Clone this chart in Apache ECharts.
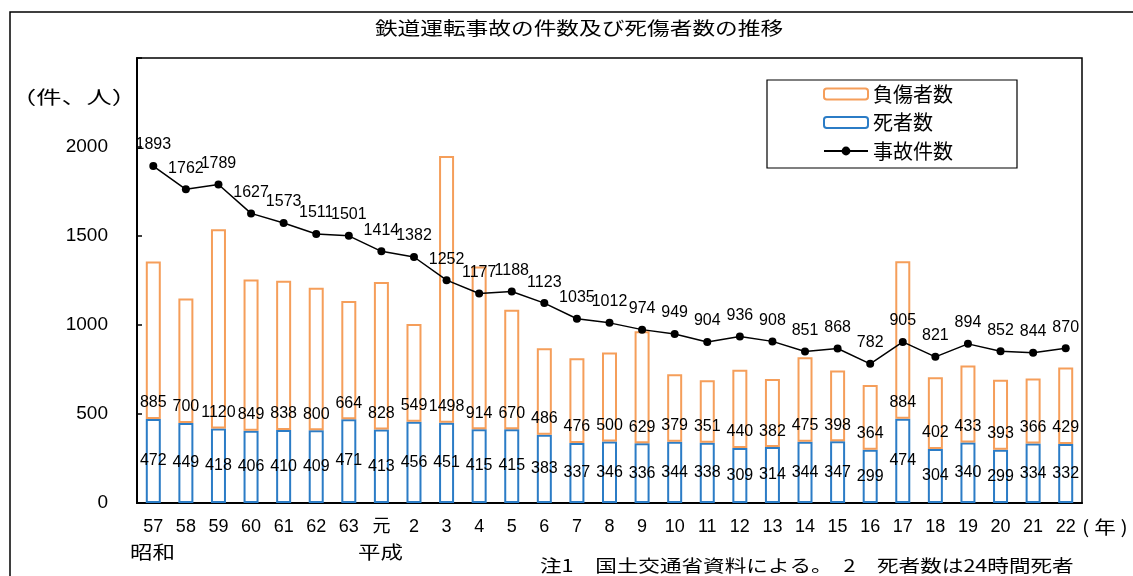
<!DOCTYPE html>
<html>
<head>
<meta charset="utf-8">
<script src="https://cdn.jsdelivr.net/npm/echarts@6/dist/echarts.min.js"></script>
<style>
  html, body { margin: 0; padding: 0; background: #fff; }
  #chart { width: 1133px; height: 576px; }
</style>
</head>
<body>
<div id="chart"></div>
<script>
// 年（昭和57年〜平成22年）
const years = ['57','58','59','60','61','62','63','元','2','3','4','5','6','7','8','9','10','11','12','13','14','15','16','17','18','19','20','21','22'];
// 死者数
const deaths = [472,449,418,406,410,409,471,413,456,451,415,415,383,337,346,336,344,338,309,314,344,347,299,474,304,340,299,334,332];
// 負傷者数
const injuries = [885,700,1120,849,838,800,664,828,549,1498,914,670,486,476,500,629,379,351,440,382,475,398,364,884,402,433,393,366,429];
// 事故件数
const accidents = [1893,1762,1789,1627,1573,1511,1501,1414,1382,1252,1177,1188,1123,1035,1012,974,949,904,936,908,851,868,782,905,821,894,852,844,870];

const FONT = "'Liberation Sans', Arial, 'Noto Sans CJK JP', sans-serif";
const JP = "'Noto Sans CJK JP', sans-serif";
const ORANGE = '#F59E5A';
const BLUE = '#2B7CC6';

// horizontally widened text helper
function wideText(text, x, y, size, scaleX, align) {
  return {
    type: 'text', x: x, y: y, scaleX: scaleX, silent: true,
    style: {
      text: text, font: size + 'px ' + JP, fill: '#000',
      textAlign: align || 'left', textVerticalAlign: 'middle'
    }
  };
}

const chart = echarts.init(document.getElementById('chart'));
chart.setOption({
  animation: false,
  textStyle: { fontFamily: FONT },
  graphic: [
    { type: 'rect', shape: { x: 10, y: 12, width: 1140, height: 580 },
      style: { fill: 'none', stroke: '#000', lineWidth: 1.5 }, silent: true },
    { type: 'rect', shape: { x: 767, y: 80, width: 250, height: 88 },
      style: { fill: '#fff', stroke: '#000', lineWidth: 1.2 }, z: 5 },
    wideText('鉄道運転事故の件数及び死傷者数の推移', 579, 28, 18, 1.26, 'center'),
    wideText('（件、人）', 11, 97, 18, 1.4),
    wideText('昭和', 130, 552, 18, 1.25),
    wideText('平成', 358, 552, 18, 1.25),
    wideText('( 年 )', 1082, 527, 18, 1.2),
    wideText('注1　国土交通省資料による。　2　死者数は24時間死者', 540, 566, 17, 1.27)
  ],
  legend: {
    orient: 'vertical',
    left: 823, top: 84, padding: 0,
    itemWidth: 44, itemHeight: 11, itemGap: 8.5,
    z: 6,
    data: ['負傷者数', '死者数', '事故件数'],
    textStyle: { fontFamily: JP, fontSize: 20, color: '#000', lineHeight: 20 }
  },
  grid: {
    left: 137, right: 51, top: 58, bottom: 73,
    show: true, borderColor: '#000', borderWidth: 1.5, backgroundColor: 'transparent'
  },
  xAxis: {
    type: 'category',
    data: years,
    axisLine: { lineStyle: { color: '#000', width: 2 } },
    axisTick: { inside: true, length: 5, lineStyle: { color: '#000', width: 1.5 } },
    axisLabel: { color: '#000', fontSize: 18, margin: 15, interval: 0 }
  },
  yAxis: {
    type: 'value',
    min: 0, max: 2500, interval: 500,
    axisLine: { show: true, lineStyle: { color: '#000', width: 2 } },
    axisTick: { show: true, inside: true, length: 5, lineStyle: { color: '#000', width: 1.5 } },
    splitLine: { show: false },
    axisLabel: {
      color: '#000', fontSize: 19, margin: 29,
      formatter: v => (v === 2500 ? '' : String(v))
    }
  },
  series: [
    {
      name: '死者数', type: 'bar', stack: 'p', barWidth: 15,
      data: deaths,
      itemStyle: { color: '#fff', borderColor: BLUE, borderWidth: 2 },
      label: { show: true, position: 'inside', color: '#000', fontSize: 16 },
      z: 2
    },
    {
      name: '負傷者数', type: 'bar', stack: 'p', barWidth: 15,
      data: injuries,
      itemStyle: { color: '#fff', borderColor: ORANGE, borderWidth: 2 },
      label: { show: true, position: 'insideBottom', distance: 8, color: '#000', fontSize: 16 },
      z: 2
    },
    {
      name: '事故件数', type: 'line',
      data: accidents,
      symbol: 'circle', symbolSize: 8,
      itemStyle: { color: '#000' },
      lineStyle: { color: '#000', width: 1.5 },
      label: { show: true, position: 'top', distance: 9, color: '#000', fontSize: 16 },
      z: 3
    }
  ]
});
</script>
</body>
</html>
